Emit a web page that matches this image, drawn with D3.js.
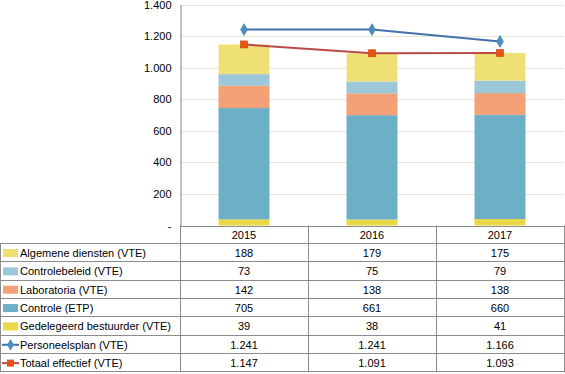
<!DOCTYPE html>
<html>
<head>
<meta charset="utf-8">
<script src="https://cdn.jsdelivr.net/npm/d3@7"></script>
<style>
  body { margin: 0; background: #fff; }
  text { font-family: "Liberation Sans", Arial, sans-serif; font-size: 11px; fill: #000; }
</style>
</head>
<body>
<div id="chart-area"></div>
<script>
let years = ["2015", "2016", "2017"]

// stacked series, bottom to top
let gedelegeerd = [39, 38, 41]
let controle = [705, 661, 660]
let laboratoria = [142, 138, 138]
let controlebeleid = [73, 75, 79]
let algemene = [188, 179, 175]

let personeelsplan = [1241, 1241, 1166]
let totaal = [1147, 1091, 1093]

let yTicks = [0, 200, 400, 600, 800, 1000, 1200, 1400]

let stackNames = ["Gedelegeerd bestuurder (VTE)", "Controle (ETP)", "Laboratoria (VTE)", "Controlebeleid (VTE)", "Algemene diensten (VTE)"]
let stackValues = [gedelegeerd, controle, laboratoria, controlebeleid, algemene]
let stackColors = ["#E9D946", "#6DAFC7", "#F1A175", "#9CC7D8", "#EFE074"]

let width = 565, height = 374
let plotLeft = 180, plotRight = 564
let plotTop = 4.5, plotBottom = 225.5
let rowH = 18.35

let svg = d3.select("#chart-area").append("svg")
  .attr("width", width)
  .attr("height", height)

let x = d3.scaleBand()
  .domain(years)
  .range([plotLeft, plotRight])
  .paddingInner(0)
  .paddingOuter(0)

let y = d3.scaleLinear()
  .domain([0, 1400])
  .range([plotBottom, plotTop])

let fmt = d => d === 0 ? "-" : d3.format(",")(d).replace(/,/g, ".")

// gridlines
svg.append("g").selectAll("line")
  .data(yTicks.filter(t => t > 0))
  .enter().append("line")
    .attr("x1", plotLeft).attr("x2", plotRight)
    .attr("y1", d => Math.round(y(d)) + 0.5).attr("y2", d => Math.round(y(d)) + 0.5)
    .attr("stroke", "#E6E6DA")
    .attr("stroke-width", 1)

// y axis
let yAxisCall = d3.axisLeft(y)
  .tickValues(yTicks)
  .tickSize(0)
  .tickPadding(9)
  .tickFormat(fmt)
let yAxis = svg.append("g")
  .attr("transform", "translate(" + (plotLeft + 0.5) + ", 0)")
  .call(yAxisCall)
yAxis.select(".domain").attr("stroke", "#868686")
yAxis.selectAll("text")
  .style("font-family", "Liberation Sans, Arial, sans-serif")
  .style("font-size", "11px")
  .attr("fill", "#000")

// stacked bars
let tableData = years.map((yr, i) => {
  let row = {year: yr}
  stackNames.forEach((n, k) => { row[n] = stackValues[k][i] })
  return row
})
let series = d3.stack().keys(stackNames)(tableData)
let barW = 51

svg.append("g").selectAll("g")
  .data(series)
  .enter().append("g")
    .attr("fill", (d, k) => stackColors[k])
  .selectAll("rect")
  .data(d => d)
  .enter().append("rect")
    .attr("x", d => x(d.data.year) + x.bandwidth() / 2 - barW / 2)
    .attr("width", barW)
    .attr("y", d => y(d[1]))
    .attr("height", d => y(d[0]) - y(d[1]))

// lines
let cx = yr => x(yr) + x.bandwidth() / 2
let lineGen = d3.line()
  .x((d, i) => cx(years[i]))
  .y(d => y(d))

svg.append("path")
  .datum(personeelsplan)
  .attr("d", lineGen)
  .attr("fill", "none")
  .attr("stroke", "#4372AA")
  .attr("stroke-width", 2)

svg.append("path")
  .datum(totaal)
  .attr("d", lineGen)
  .attr("fill", "none")
  .attr("stroke", "#B94A48")
  .attr("stroke-width", 2)

let diamond = d3.symbol().type(d3.symbolDiamond).size(40)
svg.append("g").selectAll("path")
  .data(personeelsplan)
  .enter().append("path")
    .attr("d", diamond)
    .attr("transform", (d, i) => "translate(" + cx(years[i]) + "," + y(d) + ")")
    .attr("fill", "#4A8FC0")
    .attr("stroke", "#3C78A8")
    .attr("stroke-width", 0.6)

svg.append("g").selectAll("rect")
  .data(totaal)
  .enter().append("rect")
    .attr("x", (d, i) => cx(years[i]) - 3.5)
    .attr("y", d => y(d) - 3.5)
    .attr("width", 7).attr("height", 7)
    .attr("fill", "#E8540F")
    .attr("stroke", "#C0410A")
    .attr("stroke-width", 0.6)

// data table
let tableRows = [
  {name: "Algemene diensten (VTE)", values: algemene, color: stackColors[4], kind: "box"},
  {name: "Controlebeleid (VTE)", values: controlebeleid, color: stackColors[3], kind: "box"},
  {name: "Laboratoria (VTE)", values: laboratoria, color: stackColors[2], kind: "box"},
  {name: "Controle (ETP)", values: controle, color: stackColors[1], kind: "box"},
  {name: "Gedelegeerd bestuurder (VTE)", values: gedelegeerd, color: stackColors[0], kind: "box"},
  {name: "Personeelsplan (VTE)", values: personeelsplan, color: "#4372AA", kind: "diamond"},
  {name: "Totaal effectief (VTE)", values: totaal, color: "#B94A48", kind: "square"}
]

let table = svg.append("g")
let gridColor = "#8C8C8C"
let tableTop = plotBottom
let tableBottom = tableTop + rowH * (tableRows.length + 1)

// horizontal table lines
d3.range(1, tableRows.length + 2).forEach(r => {
  let yy = Math.round(tableTop + r * rowH) - 0.5
  table.append("line")
    .attr("x1", 0).attr("x2", plotRight)
    .attr("y1", yy).attr("y2", yy)
    .attr("stroke", gridColor)
})
// axis baseline across plot
table.append("line")
  .attr("x1", plotLeft).attr("x2", plotRight)
  .attr("y1", Math.round(tableTop) + 0.5).attr("y2", Math.round(tableTop) + 0.5)
  .attr("stroke", gridColor)
// vertical table lines
years.forEach(yr => {
  let xx = Math.round(x(yr)) + 0.5
  table.append("line")
    .attr("x1", xx).attr("x2", xx)
    .attr("y1", tableTop).attr("y2", tableBottom)
    .attr("stroke", gridColor)
})
table.append("line")
  .attr("x1", plotRight + 0.5).attr("x2", plotRight + 0.5)
  .attr("y1", tableTop).attr("y2", tableBottom)
  .attr("stroke", gridColor)
table.append("line")
  .attr("x1", 0.5).attr("x2", 0.5)
  .attr("y1", tableTop + rowH).attr("y2", tableBottom)
  .attr("stroke", gridColor)

// header
years.forEach(yr => {
  table.append("text")
    .attr("x", cx(yr))
    .attr("y", tableTop + rowH / 2 + 4)
    .attr("text-anchor", "middle")
    .text(yr)
})

tableRows.forEach((row, r) => {
  let top = tableTop + (r + 1) * rowH
  let mid = top + rowH / 2
  let g = table.append("g")
  if (row.kind === "box") {
    g.append("rect")
      .attr("x", 3).attr("y", mid - 4)
      .attr("width", 15).attr("height", 8)
      .attr("fill", row.color)
  } else {
    g.append("line")
      .attr("x1", 2).attr("x2", 19)
      .attr("y1", mid).attr("y2", mid)
      .attr("stroke", row.color).attr("stroke-width", 2)
    if (row.kind === "diamond") {
      g.append("path")
        .attr("d", diamond)
        .attr("transform", "translate(10.5," + mid + ")")
        .attr("fill", "#4A8FC0")
    } else {
      g.append("rect")
        .attr("x", 7).attr("y", mid - 3.5)
        .attr("width", 7).attr("height", 7)
        .attr("fill", "#E8540F")
    }
  }
  g.append("text")
    .attr("x", 20)
    .attr("y", mid + 4)
    .text(row.name)
  row.values.forEach((v, i) => {
    g.append("text")
      .attr("x", cx(years[i]))
      .attr("y", mid + 4)
      .attr("text-anchor", "middle")
      .text(fmt(v))
  })
})
</script>
</body>
</html>
